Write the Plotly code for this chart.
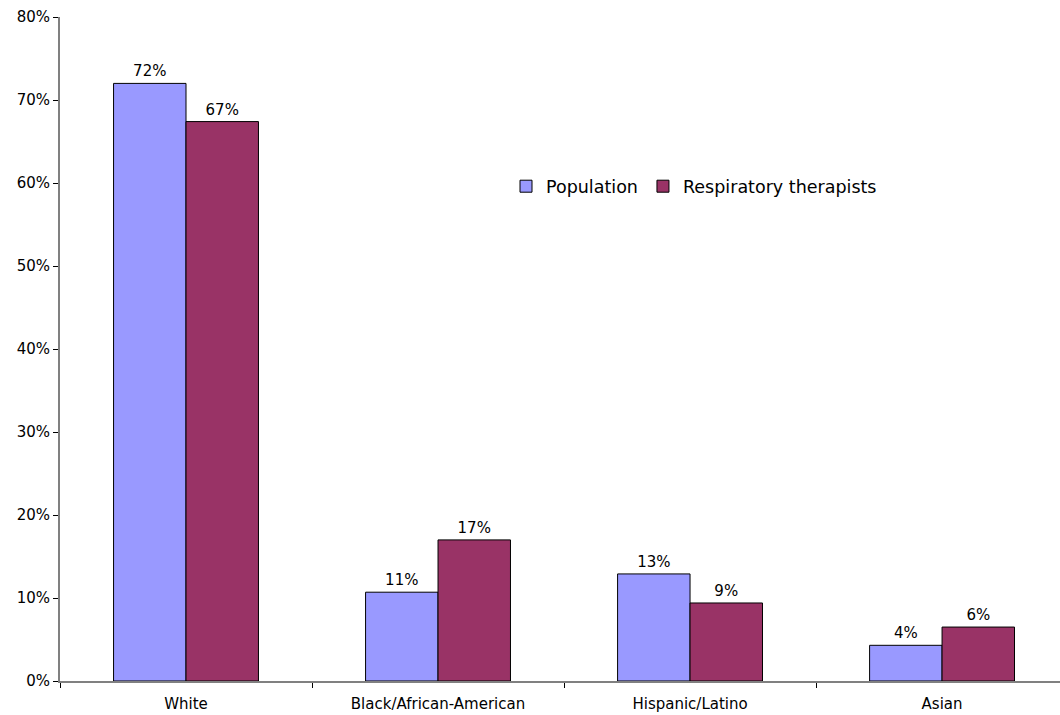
import plotly.graph_objects as go

categories = ["White", "Black/African-American", "Hispanic/Latino", "Asian"]
population = [72.0, 10.7, 12.9, 4.3]
respiratory = [67.4, 17.0, 9.4, 6.5]
y_ticks = [0, 10, 20, 30, 40, 50, 60, 70, 80]
y_tick_labels = [f"{v}%" for v in y_ticks]

font = "DejaVu Sans, Verdana, sans-serif"

fig = go.Figure()
fig.add_trace(go.Bar(
    name="Population", x=categories, y=population,
    marker=dict(color="#9999FF", line=dict(color="#000000", width=1)),
    text=[f"{round(v)}%" for v in population], textposition="outside",
    textfont=dict(size=15, color="#000000", family=font), cliponaxis=False,
))
fig.add_trace(go.Bar(
    name="Respiratory therapists", x=categories, y=respiratory,
    marker=dict(color="#993366", line=dict(color="#000000", width=1)),
    text=[f"{round(v)}%" for v in respiratory], textposition="outside",
    textfont=dict(size=15, color="#000000", family=font), cliponaxis=False,
))

fig.update_layout(
    width=1060, height=715,
    margin=dict(l=60, r=0, t=17, b=34, autoexpand=False),
    paper_bgcolor="white", plot_bgcolor="white",
    barmode="group", bargap=0.425, bargroupgap=0,
    font=dict(family=font, size=15, color="#000000"),
    showlegend=True,
    legend=dict(orientation="h", x=0.446, y=0.745, xanchor="left", yanchor="middle",
                font=dict(size=17.5, family=font), bgcolor="rgba(0,0,0,0)",
                itemwidth=30, traceorder="normal"),
    xaxis=dict(range=[-0.5, 3.468], showline=True, linecolor="#808080", linewidth=2,
               ticks="outside", tickson="boundaries", ticklen=5, tickcolor="#000000",
               showgrid=False, tickfont=dict(size=15), automargin=False,
               ticklabelstandoff=8, fixedrange=True),
    yaxis=dict(range=[0, 80], tickvals=y_ticks, ticktext=y_tick_labels,
               showline=True, linecolor="#808080", linewidth=2,
               ticks="outside", ticklen=5, tickcolor="#000000",
               showgrid=False, zeroline=False, tickfont=dict(size=15),
               automargin=False, fixedrange=True),
)
fig.write_html("out.html", config={"displayModeBar": False},
               post_script="document.body.style.margin='0';")
